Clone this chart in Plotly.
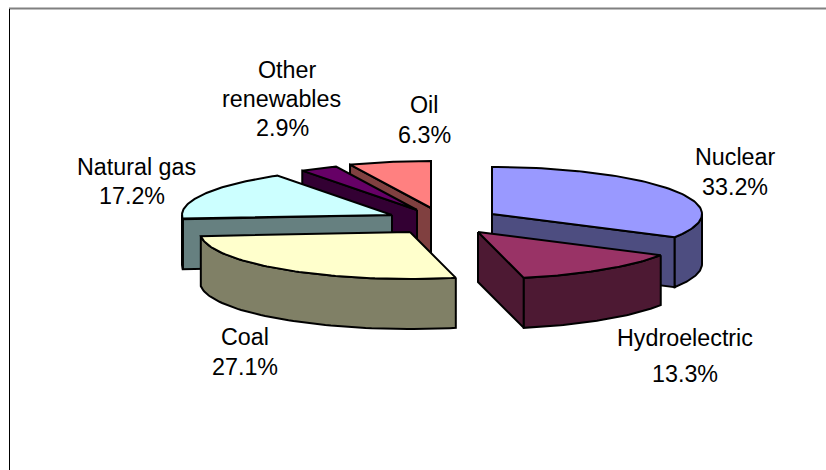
import numpy as np
import plotly.graph_objects as go

categories = ["Nuclear", "Hydroelectric", "Coal", "Natural gas", "Other renewables", "Oil"]
values = [33.2, 13.3, 27.1, 17.2, 2.9, 6.3]

top_colors = ["#9999FF", "#993366", "#FFFFCC", "#CCFFFF", "#660066", "#FF8080"]
wall_colors = ["#4D4D80", "#4D1933", "#808066", "#668080", "#330033", "#804040"]

# Exploded slice apex positions on the canvas (layout, not data)
apex_x = [492, 478, 410, 392, 417, 431]
apex_y = [214, 232, 232, 215, 210, 208]
radius_x = 210
radius_y = 47
depth = 50

# back-to-front paint order
draw_order = [5, 4, 3, 0, 1, 2]

# label layout: (text, centre x, centre y)
label_lines = [
    ("Nuclear", 735, 157), ("33.2%", 735, 187),
    ("Hydroelectric", 685, 338), ("13.3%", 685, 374),
    ("Coal", 245, 337), ("27.1%", 245, 367),
    ("Natural gas", 136, 167), ("17.2%", 132, 196),
    ("Other", 287, 70), ("renewables", 281, 99), ("2.9%", 282, 128),
    ("Oil", 424, 105), ("6.3%", 424, 135),
]

fig = go.Figure()


def poly(xs, ys, fill):
    fig.add_trace(go.Scatter(
        x=list(xs) + [xs[0]], y=list(ys) + [ys[0]], mode="lines", fill="toself",
        fillcolor=fill, line=dict(color="#000000", width=2),
        hoverinfo="skip", showlegend=False))


edges = np.concatenate([[0], np.cumsum(values)]) / sum(values) * 2 * np.pi

for i in draw_order:
    a0, a1 = edges[i], edges[i + 1]
    cx, cy = apex_x[i], apex_y[i]
    px = lambda t: cx + radius_x * np.sin(t)
    py = lambda t: cy - radius_y * np.cos(t)

    # radial walls facing the viewer
    for edge, phi in ((a0, a0 - np.pi / 2), (a1, a1 + np.pi / 2)):
        if np.cos(phi) < -1e-6:
            poly([cx, px(edge), px(edge), cx],
                 [cy, py(edge), py(edge) + depth, cy + depth], wall_colors[i])

    # outer curved wall, front half only
    lo, hi = max(a0, np.pi / 2), min(a1, 3 * np.pi / 2)
    if hi > lo:
        t = np.linspace(lo, hi, 60)
        poly(list(px(t)) + list(px(t[::-1])),
             list(py(t)) + list(py(t[::-1]) + depth), wall_colors[i])

    # top face
    t = np.linspace(a0, a1, 80)
    poly([cx] + list(px(t)), [cy] + list(py(t)), top_colors[i])

annotations = [
    dict(x=x, y=y, text=s, showarrow=False, xanchor="center", yanchor="middle",
         font=dict(family="Liberation Sans, Arial, sans-serif", size=23.3, color="#000000"))
    for s, x, y in label_lines
]

fig.update_layout(
    width=826, height=470, margin=dict(l=0, r=0, t=0, b=0),
    paper_bgcolor="#FFFFFF", plot_bgcolor="#FFFFFF", showlegend=False,
    xaxis=dict(range=[0, 826], visible=False, fixedrange=True),
    yaxis=dict(range=[470, 0], visible=False, fixedrange=True),
    annotations=annotations,
    shapes=[
        dict(type="line", xref="x", yref="y", x0=9, x1=826, y0=8.5, y1=8.5,
             line=dict(color="#808080", width=2)),
        dict(type="line", xref="x", yref="y", x0=9.5, x1=9.5, y0=9, y1=470,
             line=dict(color="#000000", width=1)),
    ],
)

fig.write_html("out.html", config={"displayModeBar": False},
               post_script="document.body.style.margin='0';")
